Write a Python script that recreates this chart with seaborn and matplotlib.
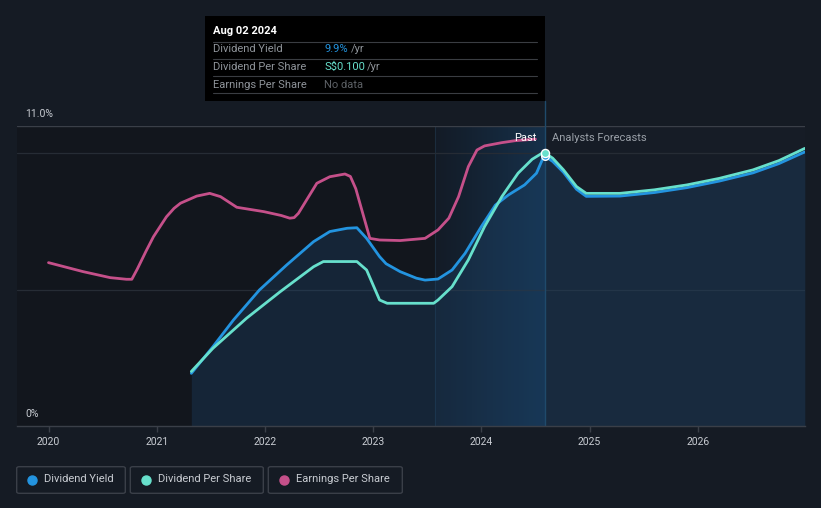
import numpy as np
import pandas as pd
import matplotlib
matplotlib.use("Agg")
import matplotlib.pyplot as plt
from matplotlib.patches import FancyBboxPatch, Rectangle
from matplotlib.lines import Line2D
from matplotlib.colors import LinearSegmentedColormap
import seaborn as sns

# ---------------- data (chart units: percent of y axis) ----------------
eps_x = [2020.0, 2020.32, 2020.57, 2020.72, 2020.77, 2020.82, 2020.90, 2020.97,
         2021.09, 2021.16, 2021.22, 2021.37, 2021.49, 2021.59, 2021.74, 2021.99, 2022.15, 2022.23,
         2022.27, 2022.31, 2022.48, 2022.60, 2022.74, 2022.79, 2022.84, 2022.97, 2023.06,
         2023.25, 2023.48, 2023.60, 2023.70, 2023.79, 2023.88, 2023.96, 2024.03, 2024.19,
         2024.31, 2024.50]
eps_v = [5.99, 5.66, 5.44, 5.38, 5.38, 5.75, 6.40, 6.94,
         7.67, 7.98, 8.17, 8.43, 8.53, 8.41, 8.02, 7.86, 7.72, 7.62,
         7.64, 7.80, 8.90, 9.14, 9.24, 9.15, 8.70, 6.88, 6.82,
         6.80, 6.88, 7.19, 7.62, 8.41, 9.51, 10.12, 10.27, 10.39,
         10.46, 10.52]

dy_x = [2021.32, 2021.52, 2021.71, 2021.95, 2022.20, 2022.45, 2022.60, 2022.76, 2022.85,
        2022.94, 2023.06, 2023.12, 2023.25, 2023.40, 2023.48, 2023.60, 2023.73, 2023.85,
        2024.00, 2024.13, 2024.25, 2024.40, 2024.51, 2024.57, 2024.586,
        2024.66, 2024.76, 2024.88, 2024.97, 2025.28, 2025.60, 2025.90, 2026.20, 2026.51,
        2026.75, 2026.99]
dy_v = [1.93, 2.91, 3.89, 4.99, 5.90, 6.76, 7.13, 7.25, 7.27,
        6.88, 6.21, 5.95, 5.66, 5.42, 5.35, 5.39, 5.72, 6.33,
        7.31, 8.10, 8.47, 8.84, 9.27, 9.82, 9.90,
        9.70, 9.30, 8.68, 8.42, 8.43, 8.56, 8.74, 8.98, 9.28,
        9.62, 10.05]

dps_x = [2021.32, 2021.52, 2021.83, 2022.14, 2022.45, 2022.54, 2022.85, 2022.94, 2023.06,
         2023.13, 2023.56, 2023.60, 2023.73, 2023.88, 2024.03, 2024.19, 2024.34, 2024.47,
         2024.56, 2024.586,
         2024.66, 2024.76, 2024.88, 2024.97, 2025.28, 2025.60, 2025.90, 2026.20, 2026.51,
         2026.75, 2026.99]
dps_v = [2.00, 2.85, 3.95, 4.92, 5.84, 6.03, 6.03, 5.72, 4.62,
         4.50, 4.50, 4.62, 5.11, 6.09, 7.31, 8.41, 9.27, 9.78,
         10.00, 10.02,
         9.82, 9.39, 8.78, 8.53, 8.53, 8.66, 8.84, 9.08, 9.39,
         9.73, 10.18]

year_ticks = [2020, 2021, 2022, 2023, 2024, 2025, 2026]
year_labels = ["2020", "2021", "2022", "2023", "2024", "2025", "2026"]
series_names = ["Dividend Yield", "Dividend Per Share", "Earnings Per Share"]
tooltip_date = "Aug 02 2024"
tooltip_values = ["9.9%", "S$0.100", "No data"]
past_start, today = 2023.57, 2024.586
y_top_label, y_bottom_label = "11.0%", "0%"

# ---------------- style ----------------
BG = "#151b24"
BLUE = "#2394e0"
TEAL = "#67e0cc"
PINK = "#c5508a"
GRID = "#262c35"
AXC = "#3a3f48"
TXT = "#c8ccd2"

sns.set_theme(style="dark")
plt.rcParams["font.family"] = ["Roboto", "DejaVu Sans"]

W, H = 821, 508
fig = plt.figure(figsize=(W / 100, H / 100), dpi=100, facecolor=BG)

def fx(px):
    return px / W

def fy(py):
    return 1 - py / H

ax = fig.add_axes([fx(17), fy(426), fx(805) - fx(17), fy(126) - fy(426)])
x0 = 2020 + (17 - 48.5) / 108.2
x1 = 2020 + (805 - 48.5) / 108.2
ax.set_xlim(x0, x1)
ax.set_ylim(0, 11)
ax.set_facecolor("#12161d")

# regions
ax.axvspan(today, x1, color="#161c26", zorder=0, lw=0)
cmap = LinearSegmentedColormap.from_list("band", ["#131b26", "#16304a"])
grad = np.linspace(0, 1, 256).reshape(1, -1)
ax.imshow(grad, extent=[past_start, today, 0, 11], aspect="auto", cmap=cmap,
          zorder=0.5, interpolation="bicubic")
ax.axvline(past_start, color="#1b2c3d", lw=0.8, zorder=0.6)

# grid
for yv in [5, 10]:
    ax.axhline(yv, color=GRID, lw=0.9, zorder=1)
ax.axhline(11, color=AXC, lw=1.0, zorder=1)

# fill under dividend yield
ax.fill_between(dy_x, 0, dy_v, color="#1e4b76", alpha=0.3, lw=0, zorder=1.5)

# today line
ax.axvline(today, color="#1f4a6b", lw=1.0, zorder=1.8)

# lines
line_kw = dict(lw=2.0, solid_joinstyle="round", solid_capstyle="round")
sns.lineplot(x=eps_x, y=eps_v, ax=ax, color=PINK, zorder=3, **line_kw)
sns.lineplot(x=dy_x, y=dy_v, ax=ax, color=BLUE, zorder=3.2, **line_kw)
sns.lineplot(x=dps_x, y=dps_v, ax=ax, color=TEAL, zorder=3.4, **line_kw)

ax.scatter([today], [dy_v[dy_x.index(today)]], s=30, color=BLUE, edgecolor="white",
           linewidth=1.0, zorder=4)
ax.scatter([today], [dps_v[dps_x.index(today)]], s=34, color=TEAL, edgecolor="white",
           linewidth=1.0, zorder=4.2)

# axes styling
for s in ["top", "right", "left"]:
    ax.spines[s].set_visible(False)
ax.spines["bottom"].set_color(AXC)
ax.spines["bottom"].set_linewidth(1.0)
ax.set_xticks(year_ticks)
ax.set_xticklabels(year_labels)
ax.set_yticks([])
ax.tick_params(axis="x", colors=AXC, length=4, width=1, labelcolor=TXT,
               labelsize=7.5, pad=4, bottom=True)
ax.grid(False)

fig.text(fx(25), fy(114), y_top_label, color=TXT, fontsize=7.5, va="center", ha="left")
fig.text(fx(25), fy(414), y_bottom_label, color=TXT, fontsize=7.5, va="center", ha="left")

fig.text(fx(536), fy(138), "Past", color="white", fontsize=8, ha="right", va="center")
fig.text(fx(552), fy(138), "Analysts Forecasts", color="#9aa0a8", fontsize=8,
         ha="left", va="center")

# line above axes to tooltip
fig.add_artist(Line2D([fx(545), fx(545)], [fy(101), fy(126)], color="#1f4a6b", lw=1.0))

# tooltip
fig.add_artist(Rectangle((fx(205), fy(101)), fx(545) - fx(205), fy(16) - fy(101),
                         transform=fig.transFigure, facecolor="#000000", edgecolor="none",
                         zorder=10))
fig.text(fx(213), fy(31), tooltip_date, color="white", fontsize=8, fontweight="bold",
         ha="left", va="center", zorder=11)
for ly in [41.5, 58.5, 76, 93]:
    fig.add_artist(Line2D([fx(213), fx(537)], [fy(ly), fy(ly)], color="#3a3d42", lw=0.8,
                          zorder=11))
row_y = [49.5, 66.5, 84.5]
val_colors = [BLUE, TEAL, "#5d6166"]
yr_x = [351, 367, None]
for i in range(3):
    fig.text(fx(213), fy(row_y[i]), series_names[i], color="#8f949a", fontsize=8,
             ha="left", va="center", zorder=11)
    fig.text(fx(324), fy(row_y[i]), tooltip_values[i], color=val_colors[i], fontsize=8,
             ha="left", va="center", zorder=11)
    if yr_x[i]:
        fig.text(fx(yr_x[i]), fy(row_y[i]), "/yr", color="#8f949a", fontsize=8,
                 ha="left", va="center", zorder=11)

# legend
boxes = [(16.7, 125.3), (130.3, 263.3), (268.3, 402.3)]
dots = [32, 146, 284]
texts_x = [44.3, 158.3, 296.3]
cols = [BLUE, TEAL, PINK]
for (bx0, bx1), dx, tx, c, name in zip(boxes, dots, texts_x, cols, series_names):
    fig.add_artist(FancyBboxPatch((fx(bx0), fy(493.3)), fx(bx1) - fx(bx0), fy(466.7) - fy(493.3),
                                  boxstyle="round,pad=0,rounding_size=0.003",
                                  transform=fig.transFigure, facecolor="none",
                                  edgecolor=AXC, lw=1.0))
    fig.add_artist(Line2D([fx(dx)], [fy(479.5)], marker="o", markersize=6.5, color=c, lw=0))
    fig.text(fx(tx), fy(479.5), name, color=TXT, fontsize=8, ha="left", va="center")

fig.savefig("out.png", dpi=100, facecolor=BG)
